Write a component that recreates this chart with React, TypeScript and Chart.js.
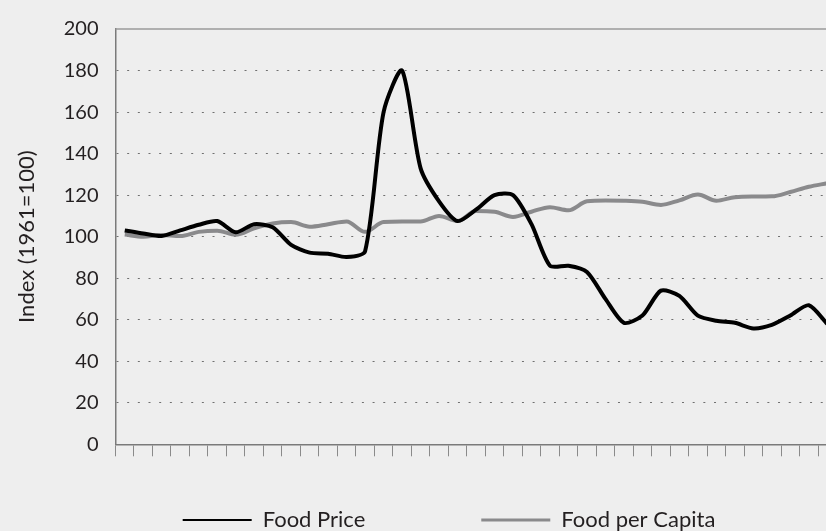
import React, { useEffect, useRef } from 'react';
import { Chart, registerables } from 'chart.js';

Chart.register(...registerables);

// Categories (years); the visible part of the original axis ends around 1999.
const years = [
  '1961', '1962', '1963', '1964', '1965', '1966', '1967', '1968', '1969', '1970',
  '1971', '1972', '1973', '1974', '1975', '1976', '1977', '1978', '1979', '1980',
  '1981', '1982', '1983', '1984', '1985', '1986', '1987', '1988', '1989', '1990',
  '1991', '1992', '1993', '1994', '1995', '1996', '1997', '1998', '1999', '2000',
  '2001', '2002',
];

const foodPrice = [
  103, 101.5, 100.3, 103, 105.7, 107.5, 102.1, 106, 104.5, 96,
  92.3, 91.8, 90.2, 93, 160, 180, 133, 117, 107.5, 113,
  120, 120, 106, 86, 86, 83, 70, 58.5, 62, 74,
  71.5, 62, 59.5, 58.5, 55.8, 57.5, 62, 67, 58,
];

const foodPerCapita = [
  101, 100, 100.8, 100.3, 102.3, 102.9, 100.9, 104, 106.3, 107,
  104.8, 106, 107.3, 102.3, 107, 107.3, 107.3, 110, 107.5, 112.3,
  112, 109.5, 112, 114.2, 112.7, 117, 117.4, 117.3, 116.8, 115.3,
  117.5, 120.3, 117.3, 119, 119.3, 119.4, 121.5, 124, 125.7,
];

const seriesNames = ['Food Price', 'Food per Capita'];
const yTitle = 'Index (1961=100)';

const BLACK = '#000000';
const GREY = '#8a8a8c';
const TEXT = '#231f20';

const topFrame = {
  id: 'topFrame',
  beforeDatasetsDraw(chart: any) {
    const { ctx, chartArea } = chart;
    ctx.save();
    ctx.strokeStyle = '#9a9a9a';
    ctx.lineWidth = 1.5;
    ctx.beginPath();
    ctx.moveTo(chartArea.left, chartArea.top);
    ctx.lineTo(chartArea.right, chartArea.top);
    ctx.stroke();
    ctx.restore();
  },
};

export default function App() {
  const ref = useRef<HTMLCanvasElement>(null);

  useEffect(() => {
    document.body.style.margin = '0';
    document.body.style.background = '#eeeeee';
    Chart.defaults.font.family = 'Lato';
    const chart = new Chart(ref.current as HTMLCanvasElement, {
      type: 'line',
      data: {
        labels: years,
        datasets: [
          {
            label: seriesNames[0],
            data: foodPrice,
            borderColor: BLACK,
            backgroundColor: BLACK,
            borderWidth: 4,
            pointRadius: 0,
            tension: 0.25,
            borderJoinStyle: 'miter',
          },
          {
            label: seriesNames[1],
            data: foodPerCapita,
            borderColor: GREY,
            backgroundColor: GREY,
            borderWidth: 4,
            pointRadius: 0,
            cubicInterpolationMode: 'monotone',
            borderJoinStyle: 'round',
          },
        ],
      },
      options: {
        responsive: true,
        maintainAspectRatio: false,
        animation: false,
        layout: { padding: { left: 6, right: 0, top: 21, bottom: 0 } },
        scales: {
          x: {
            type: 'category',
            offset: true,
            afterFit: (scale: any) => {
              scale.height = 46.7;
            },
            grid: {
              offset: true,
              drawOnChartArea: false,
              drawTicks: true,
              tickLength: 12,
              color: '#8a8a8a',
              lineWidth: 1,
            },
            ticks: { display: false },
            border: { display: true, color: '#7a7a7a', width: 1.5 },
          },
          y: {
            min: 0,
            max: 200,
            afterFit: (scale: any) => {
              scale.width = 109.5;
            },
            ticks: {
              stepSize: 20,
              padding: 17,
              color: TEXT,
              font: { family: 'Lato', size: 20 },
            },
            grid: {
              drawTicks: false,
              lineWidth: 1,
              color: (c: any) =>
                c.tick && (c.tick.value === 0 || c.tick.value === 200)
                  ? 'rgba(0,0,0,0)'
                  : '#707070',
            },
            border: { display: true, color: '#7a7a7a', width: 1.5, dash: [2, 8.67] },
            title: {
              display: true,
              text: yTitle,
              color: TEXT,
              font: { family: 'Lato', size: 22 },
              padding: { top: 8, bottom: 0 },
            },
          },
        },
        plugins: {
          tooltip: { enabled: false },
          legend: {
            display: true,
            position: 'bottom',
            align: 'center',
            maxHeight: 40,
            labels: {
              usePointStyle: true,
              pointStyleWidth: 69,
              padding: 18,
              color: TEXT,
              font: { family: 'Lato', size: 22 },
              generateLabels: () => [
                {
                  text: seriesNames[0],
                  pointStyle: 'line',
                  strokeStyle: BLACK,
                  fillStyle: BLACK,
                  lineWidth: 2,
                  fontColor: TEXT,
                  hidden: false,
                  datasetIndex: 0,
                },
                {
                  text: '',
                  pointStyle: 'line',
                  strokeStyle: 'rgba(0,0,0,0)',
                  fillStyle: 'rgba(0,0,0,0)',
                  lineWidth: 0,
                  hidden: false,
                },
                {
                  text: seriesNames[1],
                  pointStyle: 'line',
                  strokeStyle: GREY,
                  fillStyle: GREY,
                  lineWidth: 3,
                  fontColor: TEXT,
                  hidden: false,
                  datasetIndex: 1,
                },
              ],
            },
          },
        },
      },
      plugins: [topFrame],
    } as any);
    return () => chart.destroy();
  }, []);

  return (
    <div
      style={{
        position: 'fixed',
        left: 0,
        top: 0,
        width: 826,
        height: 531,
        overflow: 'hidden',
        background: '#eeeeee',
      }}
    >
      <div style={{ position: 'relative', width: 892, height: 531 }}>
        <canvas ref={ref} />
      </div>
    </div>
  );
}
